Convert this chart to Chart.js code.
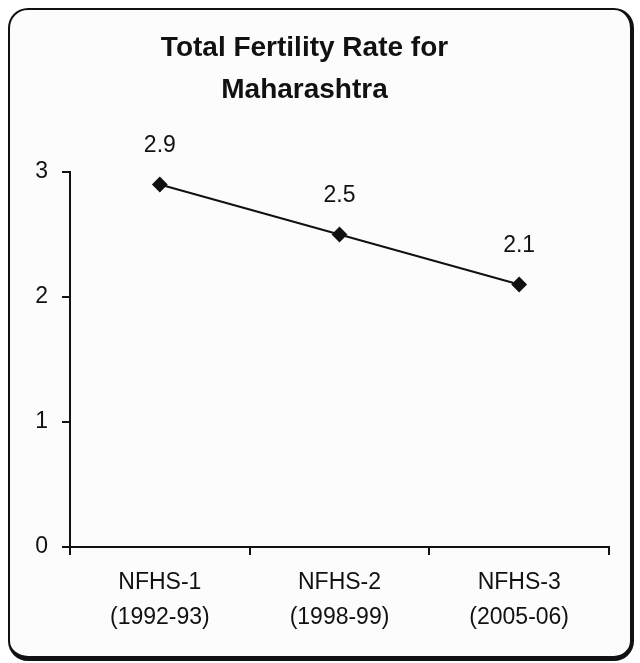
<!DOCTYPE html>
<html>
<head>
<meta charset="utf-8">
<script src="https://cdn.jsdelivr.net/npm/chart.js@4/dist/chart.umd.min.js"></script>
<style>
  html, body { margin:0; padding:0; background:#ffffff; }
  #wrap { position:relative; width:640px; height:663px; background:#ffffff; }
  #frame { position:absolute; left:8px; top:8px; width:626px; height:653px; box-sizing:border-box;
           border:2px solid #111; border-right-width:4px; border-bottom-width:5px; border-radius:20px;
           background:#fcfcfc; }
  canvas { position:absolute; left:0; top:0; }
</style>
</head>
<body>
<div id="wrap">
  <div id="frame"></div>
  <canvas id="c" width="640" height="663"></canvas>
</div>
<script>
const titleLines = ["Total Fertility Rate for", "Maharashtra"];
const categories = [["NFHS-1", "(1992-93)"], ["NFHS-2", "(1998-99)"], ["NFHS-3", "(2005-06)"]];
const tfrValues = [2.9, 2.5, 2.1];
const yTicks = [0, 1, 2, 3];

const FONT = "'Liberation Sans', Arial, sans-serif";

const dataLabels = {
  id: 'dataLabels',
  afterDatasetsDraw(chart) {
    const ctx = chart.ctx;
    const meta = chart.getDatasetMeta(0);
    ctx.save();
    ctx.font = "23px " + FONT;
    ctx.fillStyle = "#111";
    ctx.textAlign = "center";
    ctx.textBaseline = "middle";
    meta.data.forEach((pt, i) => {
      ctx.fillText(String(chart.data.datasets[0].data[i]), pt.x, pt.y - 39);
    });
    ctx.restore();
  }
};

new Chart(document.getElementById('c'), {
  type: 'line',
  data: {
    labels: categories,
    datasets: [{
      data: tfrValues,
      borderColor: '#111',
      backgroundColor: '#111',
      borderWidth: 2,
      pointStyle: 'rectRot',
      pointRadius: 6.5,
      pointBackgroundColor: '#111',
      pointBorderColor: '#111',
      tension: 0
    }]
  },
  options: {
    responsive: false,
    animation: false,
    layout: { padding: { top: 0, left: 0, right: 31, bottom: 0 } },
    plugins: {
      legend: { display: false },
      tooltip: { enabled: false },
      title: {
        display: true,
        text: titleLines,
        color: '#111',
        font: { family: FONT, size: 28, weight: 'bold', lineHeight: 1.5 },
        padding: { top: 27, bottom: 61 }
      }
    },
    scales: {
      x: {
        offset: true,
        grid: { display: true, drawOnChartArea: false, offset: true, tickLength: 8, color: '#111', lineWidth: 2 },
        border: { display: true, color: '#111', width: 2 },
        ticks: { color: '#111', padding: 10, font: { family: FONT, size: 23, lineHeight: 1.52 }, maxRotation: 0, autoSkip: false },
        afterFit(scale) { scale.height = 116; }
      },
      y: {
        min: 0, max: 3,
        afterBuildTicks(scale) { scale.ticks = yTicks.map(v => ({ value: v })); },
        grid: { display: true, drawOnChartArea: false, tickLength: 8, color: '#111', lineWidth: 2 },
        border: { display: true, color: '#111', width: 2 },
        ticks: { color: '#111', padding: 14, font: { family: FONT, size: 23 } },
        afterFit(scale) { scale.width = 70; }
      }
    }
  },
  plugins: [dataLabels]
});
</script>
</body>
</html>
